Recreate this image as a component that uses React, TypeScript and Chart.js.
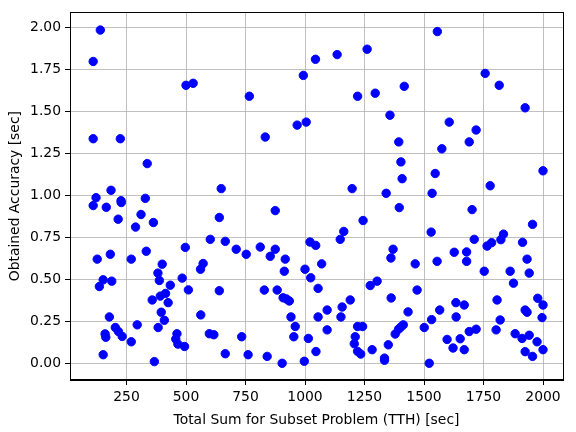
import React, { useEffect, useRef } from "react";
import { Chart, registerables } from "chart.js";

Chart.register(...registerables);

const xValues: number[] = [
  140, 110, 500, 530, 110, 224, 337, 185, 122, 227, 329, 1044, 993, 766, 967, 1005, 833, 648, 1556, 1135,
  1261, 1221, 1295, 1417, 1357, 1394, 1403, 1408, 1547, 1198, 1341, 1534, 1757, 1816, 1925, 1606, 1719, 1690, 1575, 2000,
  1778, 110, 165, 228, 215, 311, 288, 363, 497, 127, 182, 270, 333, 400, 382, 388, 434, 484, 510, 152,
  188, 136, 358, 392, 414, 425, 396, 409, 178, 562, 295, 383, 203, 216, 232, 160, 163, 270, 462, 457,
  466, 494, 152, 367, 640, 875, 602, 665, 711, 753, 812, 875, 854, 917, 913, 572, 561, 640, 829, 883,
  908, 922, 934, 1000, 1024, 1021, 1045, 1070, 1055, 941, 959, 953, 1014, 1055, 1046, 598, 617, 734, 665, 761,
  841, 904, 997, 1396, 1244, 1163, 1148, 1370, 1361, 1530, 1463, 1555, 1274, 1303, 1471, 1362, 1190, 1156, 1093, 1151,
  1433, 1566, 1532, 1093, 1221, 1242, 1413, 1402, 1393, 1379, 1501, 1211, 1207, 1221, 1234, 1282, 1350, 1334, 1334, 1522,
  1702, 1956, 1711, 1765, 1784, 1823, 1834, 1914, 1627, 1679, 1679, 1933, 1942, 1753, 1862, 1876, 1807, 1634, 1669, 1635,
  1820, 1978, 1925, 1933, 2000, 1996, 1690, 1719, 1803, 1597, 1652, 1622, 1669, 1883, 1912, 1942, 1975, 2000, 1925, 1956,
];

const yValues: number[] = [
  1.984, 1.797, 1.655, 1.667, 1.337, 1.337, 1.189, 1.03, 0.986, 0.968, 0.982, 1.81, 1.714, 1.59, 1.418, 1.436, 1.347, 1.04, 1.975, 1.838,
  1.87, 1.59, 1.608, 1.649, 1.477, 1.318, 1.199, 1.099, 1.13, 1.04, 1.012, 1.012, 1.726, 1.655, 1.521, 1.436, 1.389, 1.318, 1.277, 1.146,
  1.057, 0.939, 0.929, 0.957, 0.858, 0.886, 0.811, 0.838, 0.69, 0.62, 0.649, 0.62, 0.667, 0.59, 0.537, 0.493, 0.465, 0.507, 0.437, 0.497,
  0.489, 0.457, 0.377, 0.4, 0.416, 0.361, 0.304, 0.256, 0.276, 0.288, 0.229, 0.213, 0.213, 0.189, 0.16, 0.175, 0.155, 0.128, 0.176, 0.144,
  0.114, 0.1, 0.051, 0.01, 0.868, 0.909, 0.738, 0.726, 0.679, 0.649, 0.692, 0.679, 0.637, 0.62, 0.548, 0.594, 0.56, 0.432, 0.436, 0.436,
  0.39, 0.383, 0.371, 0.56, 0.509, 0.722, 0.702, 0.592, 0.446, 0.276, 0.219, 0.158, 0.148, 0.276, 0.07, 0.176, 0.17, 0.158, 0.057, 0.051,
  0.041, 0.0, 0.012, 0.927, 0.85, 0.785, 0.738, 0.679, 0.627, 0.781, 0.592, 0.607, 0.463, 0.489, 0.436, 0.389, 0.377, 0.335, 0.317, 0.276,
  0.306, 0.317, 0.26, 0.199, 0.219, 0.219, 0.229, 0.215, 0.203, 0.174, 0.213, 0.158, 0.116, 0.071, 0.055, 0.081, 0.11, 0.031, 0.018, 0.0,
  0.915, 0.827, 0.738, 0.698, 0.718, 0.736, 0.769, 0.72, 0.661, 0.663, 0.607, 0.62, 0.537, 0.548, 0.548, 0.477, 0.377, 0.361, 0.347, 0.276,
  0.258, 0.387, 0.317, 0.304, 0.347, 0.272, 0.189, 0.203, 0.199, 0.142, 0.146, 0.091, 0.081, 0.176, 0.148, 0.167, 0.128, 0.081, 0.069, 0.041,
];

const xTicks: number[] = [250, 500, 750, 1000, 1250, 1500, 1750, 2000];
const yTicks: number[] = [0, 0.25, 0.5, 0.75, 1.0, 1.25, 1.5, 1.75, 2.0];

const xLabel = "Total Sum for Subset Problem (TTH) [sec]";
const yLabel = "Obtained Accuracy [sec]";

const FONT = "'DejaVu Sans', sans-serif";

const framePlugin = {
  id: "frame",
  afterDraw(chart: any) {
    const { ctx, chartArea } = chart;
    ctx.save();
    ctx.strokeStyle = "#000000";
    ctx.lineWidth = 1;
    ctx.strokeRect(
      Math.round(chartArea.left) + 0.5,
      Math.round(chartArea.top) + 0.5,
      Math.round(chartArea.right - chartArea.left),
      Math.round(chartArea.bottom - chartArea.top)
    );
    ctx.restore();
  },
};

export default function App() {
  const canvasRef = useRef<HTMLCanvasElement | null>(null);

  useEffect(() => {
    if (!canvasRef.current) return;
    const points = xValues.map((x, i) => ({ x, y: yValues[i] }));
    const chart = new Chart(canvasRef.current, {
      type: "scatter",
      data: {
        datasets: [
          {
            data: points,
            backgroundColor: "#0000ff",
            borderColor: "#0000ff",
            borderWidth: 1,
            pointRadius: 4.2,
            pointHoverRadius: 4.2,
          },
        ],
      },
      options: {
        responsive: false,
        animation: false,
        events: [],
        layout: { padding: { left: 0, right: 13, top: 4, bottom: 0 } },
        plugins: {
          legend: { display: false },
          tooltip: { enabled: false },
        },
        scales: {
          x: {
            type: "linear",
            min: 12.6,
            max: 2084,
            afterBuildTicks: (scale: any) => {
              scale.ticks = xTicks.map((v) => ({ value: v }));
            },
            afterFit: (scale: any) => {
              scale.height = 52;
            },
            ticks: {
              color: "#000000",
              font: { family: FONT, size: 13.9 },
              padding: 4,
              maxRotation: 0,
              autoSkip: false,
              callback: (v: any) => String(v),
            },
            grid: {
              color: "#b0b0b0",
              lineWidth: 0.8,
              drawTicks: true,
              tickLength: 5,
              tickColor: "#000000",
              tickWidth: 1,
            },
            border: { display: true, color: "#000000", width: 1 },
            title: {
              display: true,
              text: xLabel,
              color: "#000000",
              font: { family: FONT, size: 13.9 },
              padding: { top: 0, bottom: 3 },
            },
          },
          y: {
            type: "linear",
            min: -0.0995,
            max: 2.0895,
            afterBuildTicks: (scale: any) => {
              scale.ticks = yTicks.map((v) => ({ value: v }));
            },
            afterFit: (scale: any) => {
              scale.width = 70;
            },
            ticks: {
              color: "#000000",
              font: { family: FONT, size: 13.9 },
              padding: 4,
              autoSkip: false,
              callback: (v: any) => Number(v).toFixed(2),
            },
            grid: {
              color: "#b0b0b0",
              lineWidth: 0.8,
              drawTicks: true,
              tickLength: 5,
              tickColor: "#000000",
              tickWidth: 1,
            },
            border: { display: true, color: "#000000", width: 1 },
            title: {
              display: true,
              text: yLabel,
              color: "#000000",
              font: { family: FONT, size: 13.9 },
              padding: { top: 7, bottom: 0 },
            },
          },
        },
      },
      plugins: [framePlugin],
    });
    return () => chart.destroy();
  }, []);

  return (
    <div style={{ position: "absolute", left: 0, top: 0, width: 576, height: 432, background: "#ffffff" }}>
      <canvas ref={canvasRef} width={576} height={432} style={{ display: "block", width: 576, height: 432 }} />
    </div>
  );
}
